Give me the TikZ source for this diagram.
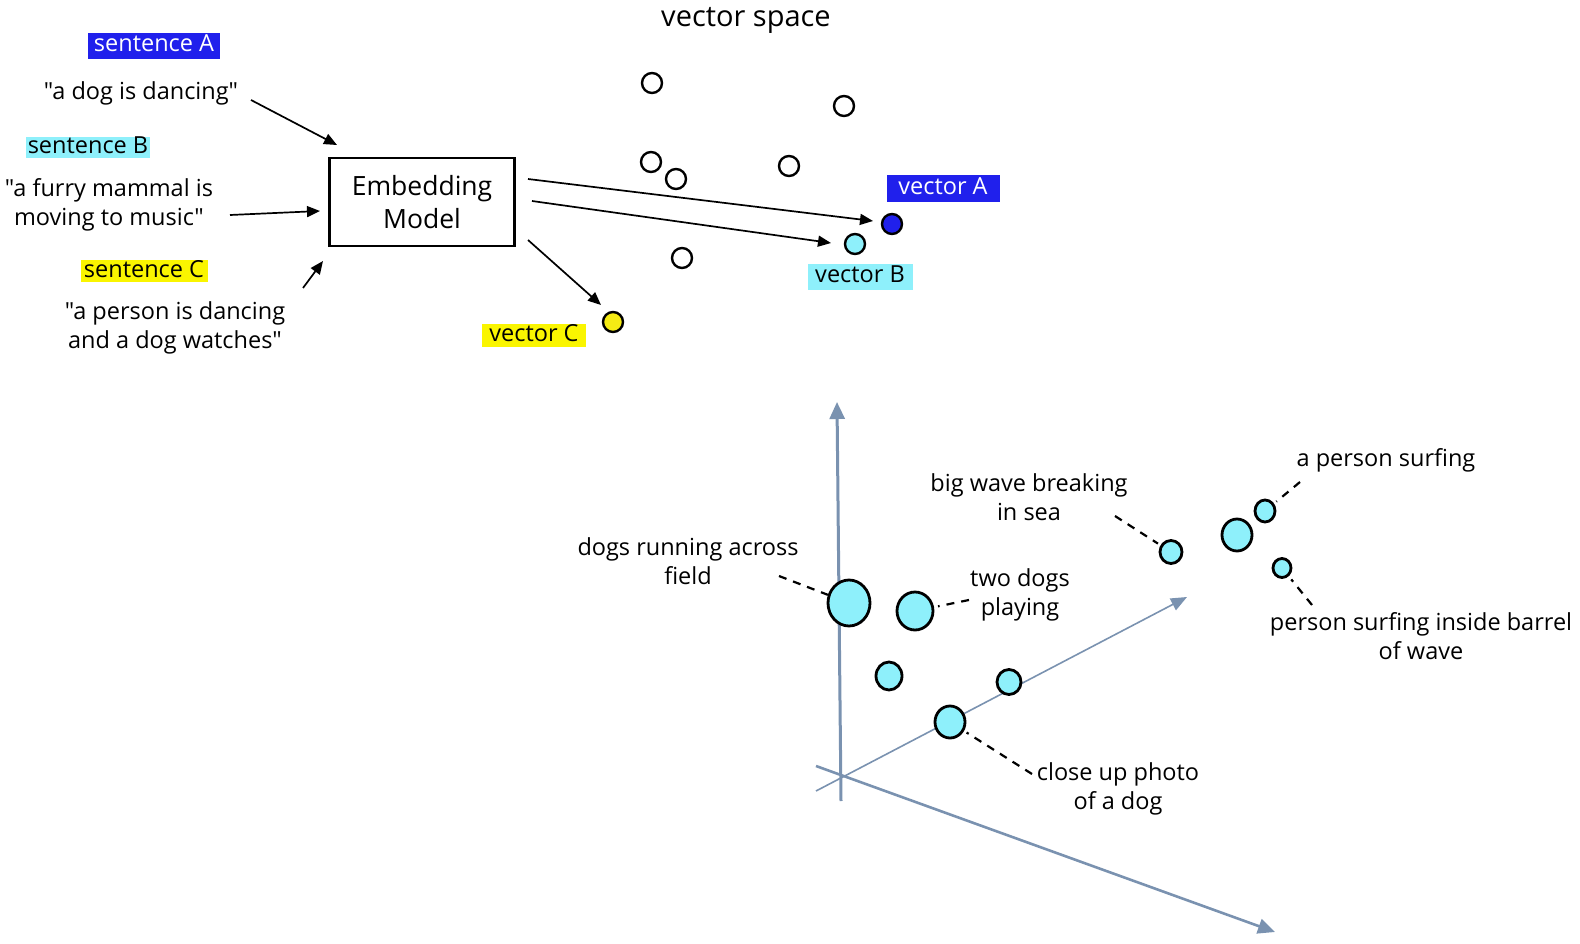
\documentclass[tikz,border=0pt]{standalone}
\usepackage{fontspec}
\setmainfont{Open Sans}[Ligatures=TeXOff]
\usetikzlibrary{arrows.meta,shapes.geometric}
\definecolor{axisblue}{RGB}{122,146,176}
\definecolor{dotcyan}{RGB}{142,240,251}
\definecolor{hlblue}{RGB}{32,32,236}
\definecolor{hlyellow}{RGB}{250,245,0}
\definecolor{dotyellow}{RGB}{245,235,20}
\begin{document}
\begin{tikzpicture}[x=1pt,y=-1pt,
  txt/.style={font=\fontsize{23.5}{29}\selectfont, align=center, inner sep=0pt},
  hl/.style={font=\fontsize{23.5}{26}\selectfont, inner sep=0pt, text height=16pt, text depth=4pt},
  arr/.style={draw=black, line width=1.7pt, -{Triangle[length=13pt,width=11pt]}},
  wdot/.style={circle, draw=black, line width=2.4pt, fill=white, minimum size=20pt, inner sep=0pt},
  cdot/.style={ellipse, draw=black, line width=2.8pt, fill=dotcyan, inner sep=0pt},
  dashline/.style={draw=black, line width=2.2pt, dash pattern=on 8pt off 7pt},
  axis/.style={draw=axisblue, line width=3pt, -{Triangle[length=17pt,width=15pt]}},
  thinaxis/.style={draw=axisblue, line width=1.6pt, -{Triangle[length=16pt,width=13pt]}}
]
\useasboundingbox (0,0) rectangle (1580,944);

% ---------- top part ----------
\node[txt, font=\fontsize{29}{32}\selectfont] (title) at (746,20) {vector space};

\node[hl, fill=hlblue, text=white, minimum width=132pt, minimum height=26pt] (sA) at (154,46) {sentence A};
\node[txt] (tA) at (141,93) {"a dog is dancing"};

\node[hl, fill=dotcyan, minimum width=124pt, minimum height=21pt] (sB) at (88,148) {sentence B};
\node[txt] (tB) at (109,205) {"a furry mammal is\\moving to music"};

\node[hl, fill=hlyellow, minimum width=127pt, minimum height=21pt] (sC) at (144,271) {sentence C};
\node[txt] (tC) at (175,328) {"a person is dancing\\and a dog watches"};

\node[draw=black, line width=2.2pt, minimum width=185pt, minimum height=88pt, align=center,
      font=\fontsize{26.5}{33}\selectfont, inner sep=0pt] (emb) at (422,202) {Embedding\\Model};

% white dots
\node[wdot] (w1) at (652,83) {};
\node[wdot] (w2) at (844,106) {};
\node[wdot] (w3) at (651,162) {};
\node[wdot] (w4) at (676,179) {};
\node[wdot] (w5) at (789,166) {};
\node[wdot] (w6) at (682,258) {};

% coloured dots
\node[wdot, fill=hlblue] (vA) at (892,224) {};
\node[wdot, fill=dotcyan] (vB) at (855,244) {};
\node[wdot, fill=dotyellow] (vC) at (613,322) {};

\node[hl, fill=hlblue, text=white, minimum width=113pt, minimum height=27pt] (lA) at (943,189) {vector A};
\node[hl, fill=dotcyan, minimum width=105pt, minimum height=26pt] (lB) at (860,277) {vector B};
\node[hl, fill=hlyellow, minimum width=104pt, minimum height=23pt] (lC) at (534,335) {vector C};

% arrows
\coordinate (a1s) at (251,100); \coordinate (a1e) at (337,145);
\coordinate (a2s) at (230,215); \coordinate (a2e) at (320,211);
\coordinate (a3s) at (303,288); \coordinate (a3e) at (323,261);
\coordinate (b1s) at (528,179); \coordinate (b1e) at (873,221);
\coordinate (b2s) at (532,201); \coordinate (b2e) at (831,243);
\coordinate (b3s) at (528,240); \coordinate (b3e) at (601,305);
\draw[arr] (a1s) -- (a1e);
\draw[arr] (a2s) -- (a2e);
\draw[arr] (a3s) -- (a3e);
\draw[arr] (b1s) -- (b1e);
\draw[arr] (b2s) -- (b2e);
\draw[arr] (b3s) -- (b3e);

% ---------- bottom part: axes ----------
\coordinate (O) at (841,777);
\coordinate (vb) at (841,801);
\coordinate (vt) at (837,402);
\coordinate (l1) at (816,766);
\coordinate (l1e) at (1275,932);
\coordinate (l2) at (816,791);
\coordinate (l2e) at (1187,597);
\draw[axis] (vb) -- (vt);
\draw[axis, line width=2.6pt] (l1) -- (l1e);
\draw[thinaxis] (l2) -- (l2e);

% cyan dots
\node[cdot, minimum width=42pt, minimum height=46pt] (d1) at (849,603) {};
\node[cdot, minimum width=36pt, minimum height=38pt] (d2) at (915,611) {};
\node[cdot, minimum width=26pt, minimum height=28pt] (d3) at (889,676) {};
\node[cdot, minimum width=24pt, minimum height=25pt] (d4) at (1009,682) {};
\node[cdot, minimum width=30pt, minimum height=32pt] (d5) at (950,722) {};
\node[cdot, minimum width=22pt, minimum height=23pt] (d6) at (1171,552) {};
\node[cdot, minimum width=30pt, minimum height=32pt] (d7) at (1237,535) {};
\node[cdot, minimum width=20pt, minimum height=22pt] (d8) at (1265,511) {};
\node[cdot, minimum width=18pt, minimum height=19pt] (d9) at (1282,568) {};

% labels
\node[txt] (t1) at (688,561) {dogs running across\\field};
\node[txt] (t2) at (1020,595) {two dogs\\playing};
\node[txt] (t3) at (1029,497) {big wave breaking\\in sea};
\node[txt] (t4) at (1386,460) {a person surfing};
\node[txt] (t5) at (1421,636) {person surfing inside barrel\\of wave};
\node[txt] (t6) at (1118,789) {close up photo\\of a dog};

% dashed leaders
\coordinate (c1) at (779,576);
\coordinate (c2) at (969,600);
\coordinate (c3) at (1115,516);
\coordinate (c4) at (1300,482);
\coordinate (c5) at (1312,605);
\coordinate (c6) at (1032,774);
\draw[dashline] (c1) -- (d1);
\draw[dashline, shorten >=4pt] (c2) -- (d2);
\draw[dashline, shorten >=3pt] (c3) -- (d6);
\draw[dashline, shorten >=3pt] (c4) -- (d8);
\draw[dashline, shorten >=4pt] (c5) -- (d9);
\draw[dashline, shorten >=3pt] (c6) -- (d5);
\end{tikzpicture}
\end{document}
